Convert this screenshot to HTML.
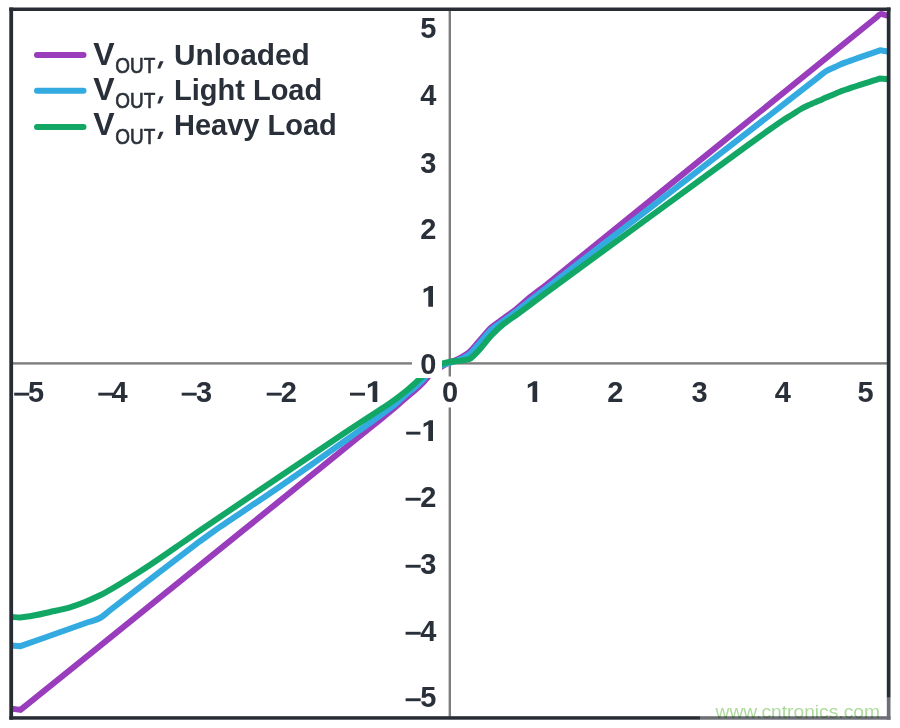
<!DOCTYPE html>
<html><head><meta charset="utf-8">
<style>
html,body{margin:0;padding:0;background:#fff;}
body{width:900px;height:728px;overflow:hidden;position:relative;font-family:"Liberation Sans",sans-serif;}
svg{position:absolute;left:0;top:0;}
text{font-family:"Liberation Sans",sans-serif;font-weight:bold;font-size:29px;fill:#2a3039;}
.sub{font-weight:normal;font-size:21.5px;stroke:#2a3039;stroke-width:0.65px;}
</style></head><body>
<svg width="900" height="728" viewBox="0 0 900 728">
<rect x="0" y="0" width="900" height="728" fill="#fff"/>
<!-- axes -->
<g fill="#7e7e80">
<rect x="448.6" y="10" width="2.4" height="366.5"/>
<rect x="448.6" y="407.5" width="2.4" height="310"/>
<rect x="12" y="362.2" width="876" height="2.4"/>
</g>
<!-- curves -->
<g fill="none" stroke-width="6" stroke-linejoin="round" stroke-linecap="butt">
<path stroke="#9a3dbd" d="M11,708.6 L20.5,709.9 C101.64,644.49 212.02,555.55 245.9,528.2 C279.78,500.85 324.26,464.94 340,452.2 C355.74,439.46 379.41,420.32 383.7,416.8 C387.99,413.28 391.55,410.46 395.6,407 C399.65,403.54 403.74,399.75 406.7,397.2 C409.66,394.65 412.09,392.81 415,390.2 C417.91,387.59 420.44,385.27 423.3,382.3 C426.16,379.33 427.88,376.19 431.1,373.4 C434.32,370.61 439.33,368.07 442,366.5 C444.67,364.93 447.23,363.30 449.5,362.3 C451.77,361.30 453.72,360.98 456,360 C458.28,359.02 462.54,356.68 464.4,355.5 C466.26,354.32 467.69,353.38 469.4,352 C471.11,350.62 475.74,344.96 479.3,341 C482.86,337.04 487.46,330.98 491.6,327.3 C495.74,323.62 499.56,321.49 504,318.2 C508.44,314.91 511.98,312.45 516.3,309 C520.62,305.55 524.16,302.12 528.7,298.4 C533.24,294.68 539.78,289.83 546,285 C552.22,280.17 875.22,18.38 876.6144249560781,17.246793062476666 C878.01,16.11 878.75,14.53 880.5,14.1 C882.25,13.67 884.11,14.82 885.4029033784547,15.08058067569092 C886.70,15.34 887.71,15.54 889,15.8"/>
<path stroke="#33abe1" d="M11,645.4 L20.5,646.2 C45.05,637.49 84.62,623.46 88.69043324443501,622.0116953774457 C92.76,620.57 96.20,620.06 100,618 C103.80,615.94 106.09,613.32 109.51714577830711,610.6908320422601 C112.94,608.06 192.83,546.39 200,541.2 C207.17,536.01 212.76,532.00 220,526.9 C227.24,521.80 258.53,501.24 280,486.5 C301.47,471.76 333.50,449.17 350,437.3 C366.50,425.43 391.53,407.51 395.6,404 C399.67,400.49 403.76,396.51 406.7,394 C409.64,391.49 412.10,389.75 415,387.2 C417.90,384.65 420.44,382.27 423.3,379.3 C426.16,376.33 427.70,372.97 431.1,370.4 C434.50,367.83 437.97,366.89 442,365.3 C446.03,363.71 452.93,362.15 456,361 C459.07,359.85 462.54,358.48 464.4,357.5 C466.26,356.52 467.70,355.73 469.4,354.5 C471.10,353.27 475.76,347.48 479.3,343.5 C482.84,339.52 487.47,333.22 491.6,329.5 C495.73,325.78 499.60,323.51 504,320.3 C508.40,317.09 511.96,314.79 516.3,311.5 C520.64,308.21 524.20,305.05 528.7,301.5 C533.20,297.95 539.77,293.05 546,288.3 C552.23,283.55 752.66,128.53 770,115 C787.34,101.47 815.29,79.58 818.1231694241665,77.3608067718127 C820.96,75.14 822.93,73.08 826,71.2 C829.07,69.32 832.92,67.97 835.0618313999527,66.97114534668876 C837.20,65.97 838.85,65.17 841,64.2 C843.15,63.23 865.96,55.30 880,50.3 L889,51.8"/>
<path stroke="#12a765" d="M11,616.9 C14.24,617.08 16.76,617.46 20,617.4 C23.24,617.34 29.63,616.26 35,615.3 C40.37,614.34 44.61,613.22 50,612 C55.39,610.78 64.52,608.95 70,607.3 C75.48,605.65 79.68,604.12 85,602 C90.32,599.88 94.68,597.88 100,595.3 C105.32,592.72 125.85,580.48 140,571.5 C154.15,562.52 172.78,549.38 180,544.4 C187.22,539.42 192.79,535.49 200,530.5 C207.21,525.51 309.85,456.21 320,449.4 C330.15,442.59 338.02,437.26 348.2,430.5 C358.38,423.74 387.00,405.24 390,403.1 C393.00,400.96 395.35,399.32 398.3,397.1 C401.25,394.88 403.74,392.95 406.7,390.5 C409.66,388.05 412.70,385.17 416.1,382.2 C419.50,379.23 422.24,376.45 426,373.6 C429.76,370.75 435.87,365.95 442.2,363.6 C448.53,361.25 457.56,361.15 460.7,360.6 C463.84,360.05 466.47,360.25 469.4,359 C472.33,357.75 475.91,353.29 479.3,349.8 C482.69,346.31 487.38,339.59 491.6,335.2 C495.82,330.81 499.78,327.10 504,323.7 C508.22,320.30 511.91,318.18 516.3,315 C520.69,311.82 524.24,309.12 528.7,305.8 C533.16,302.48 539.77,297.47 546,292.8 C552.23,288.13 738.95,151.58 746,146.5 C753.05,141.42 759.36,136.83 765.6,132.4 C771.84,127.97 779.80,122.25 783,120.2 C786.20,118.15 788.78,116.71 792,114.7 C795.22,112.69 797.85,110.75 801,109 C804.15,107.25 806.73,106.12 810,104.6 C813.27,103.08 817.68,101.26 822,99.4 C826.32,97.54 833.45,94.30 840,91.7 C846.55,89.10 865.34,83.32 879.6,78.6 L889,79.3"/>
</g>
<!-- white box behind y "0" label -->
<rect x="412" y="350" width="30" height="28" fill="#fff"/>
<!-- frame -->
<g fill="#272c35">
<rect x="9.3" y="7.5" width="3.8" height="712.2"/>
<rect x="886.8" y="7.5" width="3.7" height="712.2"/>
<rect x="9.3" y="7.5" width="881.2" height="3.5"/>
<rect x="9.3" y="716.2" width="881.2" height="3.5"/>
</g>
<!-- legend -->
<g stroke-width="6" stroke-linecap="round">
<line x1="37" y1="54.9" x2="83.5" y2="54.9" stroke="#9a3dbd"/>
<line x1="37" y1="90.8" x2="83.5" y2="90.8" stroke="#33abe1"/>
<line x1="37" y1="127" x2="83.5" y2="127" stroke="#12a765"/>
</g>
<text x="93.3" y="64.5" style="font-size:32px">V</text><text class="sub" x="115.3" y="73.1" textLength="40" lengthAdjust="spacingAndGlyphs">OUT</text><path d="M159.9,61.3 L163.6,61.3 L160.2,68.6 L157.3,68.6 Z" fill="#2a3039"/><text x="174" y="64.5" style="font-size:29.8px">Unloaded</text>
<text x="93.3" y="99.5" style="font-size:32px">V</text><text class="sub" x="115.3" y="108.1" textLength="40" lengthAdjust="spacingAndGlyphs">OUT</text><path d="M159.9,96.3 L163.6,96.3 L160.2,103.6 L157.3,103.6 Z" fill="#2a3039"/><text x="174" y="99.5" style="font-size:29px">Light Load</text>
<text x="93.3" y="135" style="font-size:32px">V</text><text class="sub" x="115.3" y="143.6" textLength="40" lengthAdjust="spacingAndGlyphs">OUT</text><path d="M159.9,131.8 L163.6,131.8 L160.2,139.1 L157.3,139.1 Z" fill="#2a3039"/><text x="174" y="135" style="font-size:29px">Heavy Load</text>
<!-- y labels -->
<g text-anchor="middle" style="font-size:30.2px">
<text x="428.2" y="38.2">5</text>
<text x="428.2" y="105.1">4</text>
<text x="428.2" y="172.8">3</text>
<text x="428.2" y="238.8">2</text>
<text x="428.2" y="373.5">0</text>
<text x="428.2" y="507.1">2</text>
<text x="428.2" y="574.1">3</text>
<text x="428.2" y="641.1">4</text>
<text x="428.2" y="707.3">5</text>
</g>
<rect fill="#2a3039" x="405.6" y="497.8" width="15.1" height="2.9"/>
<rect fill="#2a3039" x="405.6" y="564.8" width="15.1" height="2.9"/>
<rect fill="#2a3039" x="405.6" y="631.8" width="15.1" height="2.9"/>
<rect fill="#2a3039" x="405.6" y="698.3" width="15.1" height="2.9"/>
<path fill="#2a3039" d="M433,285.9 L433,306.7 L428.3,306.7 L428.3,290.3 L423.6,293.0 L423.6,289.1 Q427.4,287.9 429.4,285.9 Z"/>
<path fill="#2a3039" d="M433,420.2 L433,441 L428.3,441 L428.3,424.6 L423.6,427.3 L423.6,423.4 Q427.4,422.2 429.4,420.2 Z"/>
<rect fill="#2a3039" x="406.2" y="431.7" width="14.2" height="2.9"/>
<!-- x labels -->
<g text-anchor="middle" style="font-size:30.2px">
<text x="36.1" y="402">5</text>
<text x="119.6" y="402">4</text>
<text x="204" y="402">3</text>
<text x="288.8" y="402">2</text>
<text x="450" y="402">0</text>
<text x="615.3" y="402">2</text>
<text x="699.5" y="402">3</text>
<text x="782.8" y="402">4</text>
<text x="865.5" y="402">5</text>
</g>
<rect fill="#2a3039" x="14.2" y="392.7" width="15.0" height="2.9"/>
<rect fill="#2a3039" x="98.3" y="392.7" width="15.0" height="2.9"/>
<rect fill="#2a3039" x="181.7" y="392.7" width="15.0" height="2.9"/>
<rect fill="#2a3039" x="266.7" y="392.7" width="15.0" height="2.9"/>
<path fill="#2a3039" d="M377.3,381.2 L377.3,402 L372.6,402 L372.6,385.6 L367.9,388.3 L367.9,384.4 Q371.7,383.2 373.7,381.2 Z"/>
<rect fill="#2a3039" x="350" y="392.7" width="15.0" height="2.9"/>
<path fill="#2a3039" d="M537.2,381.2 L537.2,402 L532.5,402 L532.5,385.6 L527.8,388.3 L527.8,384.4 Q531.6,383.2 533.6,381.2 Z"/>
<!-- watermark -->
<rect x="700" y="697.3" width="200" height="30.7" fill="#fff" opacity="0.32"/>
<text x="715.5" y="717.6" textLength="164.5" lengthAdjust="spacingAndGlyphs" style="font-weight:normal;font-size:19px;fill:#aedb9d;mix-blend-mode:multiply">www.cntronics.com</text>
</svg>
</body></html>
